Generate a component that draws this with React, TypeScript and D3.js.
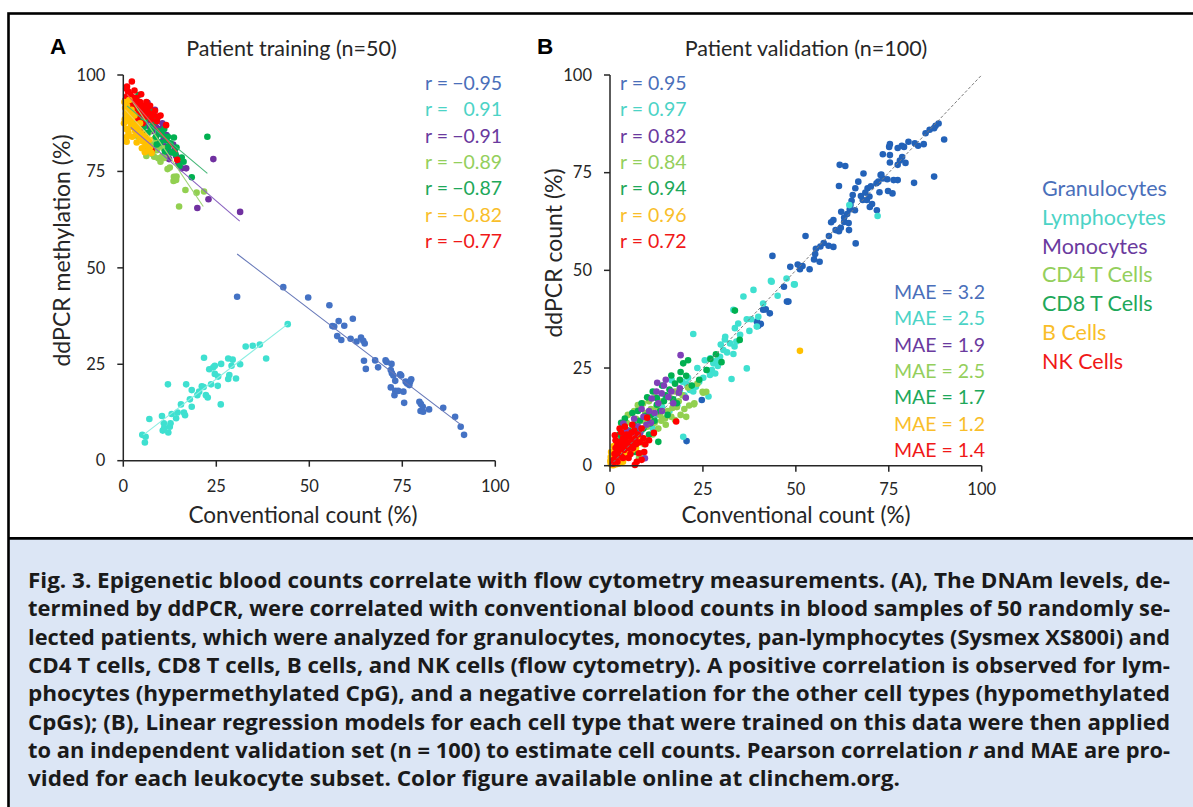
import React from 'react';
import * as d3 from 'd3';

const cellTypes = ['Granulocytes', 'Lymphocytes', 'Monocytes', 'CD4 T Cells', 'CD8 T Cells', 'B Cells', 'NK Cells'];
const typeColors = ['#4472c4', '#3fe0d0', '#7030a0', '#92d050', '#00b050', '#ffc000', '#ff0000'];
const textColors = ['#4a6fba', '#4cd3c6', '#6a3a9e', '#94cf5c', '#1ea85a', '#f9be2a', '#f01818'];
const granulocyteColorB = '#2362b8';

const rTraining = ['\u22120.95', '0.91', '\u22120.91', '\u22120.89', '\u22120.87', '\u22120.82', '\u22120.77'];
const rValidation = ['0.95', '0.97', '0.82', '0.84', '0.94', '0.96', '0.72'];
const maeValidation = ['3.2', '2.5', '1.9', '2.5', '1.7', '1.2', '1.4'];
const axisTicks = [0, 25, 50, 75, 100];

// Panel A: training (conventional count %, ddPCR methylation %)
const granA = [[30.6,42.5],[43.0,45.0],[49.7,42.3],[55.4,40.3],[56.2,34.9],[56.7,34.8],[57.9,36.2],[59.4,35.0],[57.5,32.3],[58.6,31.3],[61.7,36.8],[61.1,31.6],[62.7,30.9],[63.9,31.9],[64.5,31.1],[64.9,30.4],[64.7,25.9],[65.2,23.8],[67.7,26.0],[68.5,24.2],[70.5,26.0],[70.8,25.6],[72.1,25.1],[71.9,23.5],[72.2,22.7],[72.6,22.1],[73.1,20.7],[71.9,19.0],[73.1,18.1],[72.9,17.0],[73.9,18.1],[74.4,22.4],[74.7,22.1],[75.9,20.5],[76.3,20.0],[76.9,19.6],[77.4,21.1],[77.1,20.5],[75.5,15.0],[79.6,15.3],[80.0,14.7],[79.9,12.9],[80.6,12.7],[80.5,14.0],[82.2,13.3],[86.0,13.7],[89.2,11.4],[90.7,8.8],[91.6,6.7],[75.3,17.9]];
const lymphA = [[5.1,6.7],[6.0,6.2],[5.8,4.7],[7.0,10.8],[10.4,11.6],[10.9,9.7],[10.6,7.8],[12.1,7.3],[12.5,8.8],[12.7,9.7],[13.0,12.1],[12.0,19.8],[14.2,11.0],[15.5,14.6],[16.3,12.5],[16.6,11.8],[16.9,19.8],[18.4,18.3],[18.4,14.0],[19.9,17.0],[20.4,17.9],[21.1,19.3],[21.7,26.7],[22.2,17.0],[22.7,16.4],[23.6,19.8],[23.1,23.7],[24.2,24.2],[24.6,24.6],[25.5,21.8],[25.4,19.4],[26.3,25.1],[26.2,14.6],[28.2,26.5],[28.5,22.2],[29.1,24.6],[29.4,26.2],[31.4,25.0],[32.9,29.6],[34.8,29.8],[36.7,30.1],[38.4,26.5],[44.2,35.4],[28.2,21.2],[24.6,22.5],[17.9,15.9],[21.6,19.1],[14.6,12.5],[30.3,21.3],[11.0,8.5]];
const monoA = [[24.2,78.2],[31.4,64.5],[19.9,65.5],[22.9,67.8],[16.9,75.8],[12.3,78.2],[12.8,79.9],[10.1,86.0],[7.0,91.5],[8.1,90.1],[13.4,82.0],[14.8,77.1],[15.7,75.8],[11.6,84.4],[9.0,88.5],[7.5,89.0],[6.2,90.5],[5.5,91.2],[4.8,92.0],[6.8,88.2],[8.8,86.5],[9.5,84.8],[10.8,83.2],[11.2,81.5],[12.0,80.8],[5.0,89.5],[4.0,91.0],[3.5,92.5],[6.0,87.0],[7.8,85.5],[9.8,82.5],[13.8,80.5],[10.5,87.5],[8.5,91.0],[6.5,92.8],[3.0,93.5],[2.5,94.0],[11.5,79.5],[14.2,79.0],[7.2,86.5]];
const cd4A = [[15.0,65.9],[19.7,69.5],[21.7,69.8],[16.7,70.2],[13.6,73.6],[14.2,72.8],[13.5,72.5],[14.3,73.7],[11.9,75.6],[9.4,78.4],[8.3,78.8],[10.8,81.0],[9.4,81.4],[7.5,80.0],[6.5,82.5],[5.5,83.5],[4.5,85.0],[3.8,86.5],[3.0,88.0],[2.5,89.0],[2.0,90.5],[1.5,91.5],[4.0,84.0],[5.0,86.0],[6.0,84.5],[7.0,83.0],[8.0,82.0],[3.5,87.0],[2.8,87.5],[1.8,89.5],[5.8,81.0],[7.8,79.5],[10.0,77.5],[12.5,76.0],[11.0,78.5],[9.0,80.5],[6.8,85.0],[4.2,88.0],[3.2,90.0],[1.2,92.5],[8.5,83.5],[10.5,79.0],[2.2,86.5],[6.2,79.0]];
const cd8A = [[22.6,84.0],[18.4,73.5],[15.7,78.6],[14.3,81.2],[13.6,83.8],[11.6,83.1],[12.7,82.3],[12.1,81.4],[15.1,76.4],[11.2,80.2],[8.1,87.5],[6.7,88.8],[4.1,94.8],[5.4,91.0],[9.5,85.5],[10.5,84.5],[7.5,86.0],[6.0,89.5],[3.5,90.5],[2.8,92.0],[4.8,88.0],[8.8,84.0],[10.0,82.5],[12.0,84.0],[13.0,80.0],[5.5,86.5],[3.0,89.0],[2.0,91.5],[7.0,90.5],[9.0,82.0],[14.0,79.5],[11.0,86.0],[6.5,85.0],[4.5,91.5],[1.5,93.0],[16.2,77.5],[8.5,89.0]];
const nkA = [[2.3,98.3],[1.3,95.7],[0.8,96.5],[1.0,94.5],[1.8,95.0],[2.5,94.2],[3.0,93.5],[3.5,94.0],[2.0,93.0],[4.0,92.5],[4.5,93.0],[3.2,91.8],[5.0,91.5],[5.5,92.0],[6.0,90.5],[4.2,90.0],[6.5,91.0],[7.0,90.0],[8.5,90.7],[9.4,89.2],[8.0,89.5],[7.5,88.5],[5.8,89.2],[3.8,88.8],[4.3,85.3],[7.6,80.5],[14.5,78.0],[2.8,90.5],[1.5,92.0],[6.2,93.0],[3.0,96.0],[1.0,97.0],[9.0,88.0],[10.0,89.5],[2.2,89.0],[5.2,87.5],[7.2,92.0],[4.8,95.0],[0.6,93.5],[11.5,87.0]];
const bA = [[0.9,82.7],[6.3,83.5],[7.2,81.3],[0.3,93.0],[0.5,91.5],[0.7,90.0],[0.4,88.5],[0.2,87.5],[1.0,92.0],[1.2,90.5],[1.5,89.0],[1.8,87.8],[2.0,86.5],[2.3,88.5],[2.6,90.0],[2.9,87.0],[3.2,85.5],[3.5,86.8],[3.8,84.5],[4.1,85.8],[4.4,83.8],[4.8,84.8],[5.2,82.8],[5.6,84.2],[6.0,82.0],[6.6,81.5],[7.0,83.2],[1.4,85.0],[2.4,84.0],[3.0,89.5],[1.6,93.5],[0.8,86.0],[3.6,82.5],[5.0,81.0],[4.5,87.5],[2.2,91.0],[1.0,84.0],[6.8,80.5],[5.8,80.0],[7.6,79.8]];

// Regression fit lines in panel A: [x0, y0, x1, y1]
const fitGran = [30.6, 53.6, 90.8, 9.3];
const fitLymph = [5.4, 6.7, 44.2, 35.4];
const fitMono = [2.0, 86.4, 31.3, 62.1];
const fitCd4 = [2.0, 93.8, 21.5, 65.9];
const fitCd8 = [1.0, 92.0, 22.6, 74.5];
const fitB = [0.5, 91.0, 8.0, 83.0];
const fitNk = [1.0, 95.0, 14.5, 80.0];

// Panel B: validation (conventional count %, ddPCR count %)
const granB = [[88.4,87.6],[87.6,87.0],[87.2,86.4],[89.9,83.5],[84.9,85.1],[84.4,82.3],[82.9,81.9],[80.3,82.9],[79.1,81.6],[78.5,81.9],[77.4,81.3],[75.3,82.3],[75.1,81.6],[73.4,79.7],[75.3,79.5],[78.0,78.1],[77.4,77.0],[75.3,77.6],[78.6,79.0],[87.2,74.0],[81.8,72.4],[77.4,73.1],[76.3,73.1],[74.6,73.3],[73.4,73.5],[72.8,74.4],[72.2,72.7],[76.0,69.7],[74.8,70.3],[71.7,72.3],[68.2,74.8],[66.8,72.7],[69.3,71.0],[68.7,69.9],[69.8,68.9],[68.0,68.0],[69.1,68.0],[70.5,67.0],[71.8,65.4],[69.9,66.2],[61.8,77.0],[63.3,76.7],[61.6,71.6],[65.3,69.3],[65.0,67.8],[64.7,66.7],[64.5,65.6],[65.9,65.4],[63.8,64.4],[62.2,65.0],[60.1,62.9],[59.5,62.3],[60.7,60.3],[62.1,60.9],[61.6,60.0],[63.0,62.4],[64.2,62.1],[64.3,60.3],[58.9,58.8],[66.1,56.9],[60.1,56.0],[58.8,56.3],[56.6,56.1],[55.4,55.5],[55.2,54.2],[54.9,52.8],[56.4,52.2],[52.6,58.8],[51.8,51.1],[51.1,50.3],[53.7,50.3],[48.5,50.9],[43.7,53.7],[46.8,45.8],[47.6,42.0],[41.9,40.0],[43.0,39.0],[39.5,36.9],[40.6,36.3],[24.7,16.8],[20.6,6.3],[41.2,39.9],[39.9,35.8],[48.0,42.0],[70.2,71.5],[67.5,69.0],[72.5,70.0],[79.5,77.5],[82.0,82.5],[86.0,86.0],[73.0,74.5],[66.0,71.0],[63.0,63.5],[57.5,57.0],[50.5,51.5]];
const lymphB = [[72.0,63.9],[64.4,66.7],[49.7,46.4],[43.3,47.3],[38.6,45.0],[43.5,47.1],[49.5,46.4],[47.5,47.9],[45.1,43.5],[22.4,33.7],[36.8,24.9],[32.7,22.2],[26.5,17.7],[19.7,7.4],[30.9,32.3],[32.3,31.3],[33.5,30.5],[33.2,28.6],[29.6,27.9],[30.5,29.6],[27.8,26.2],[27.4,24.5],[28.3,23.6],[26.9,23.2],[26.0,24.5],[25.1,22.5],[23.1,20.2],[22.4,19.0],[21.5,19.4],[20.6,20.9],[18.8,19.2],[16.6,21.9],[18.1,15.5],[35.9,43.3],[33.2,39.9],[34.5,36.4],[33.6,35.2],[36.8,37.5],[41.2,41.5],[39.9,38.1],[39.5,35.6],[38.0,37.5],[28.5,26.8],[29.0,25.5],[31.5,29.0],[24.0,21.5],[20.0,18.0],[17.0,16.5],[15.0,17.5],[12.5,13.0],[10.0,11.5],[8.5,9.0],[14.0,15.0],[19.5,21.5],[23.5,25.0],[27.0,27.5],[35.0,33.5],[37.5,34.5],[21.0,22.5],[25.5,27.0],[31.0,33.0],[34.0,31.8],[29.8,31.0],[16.0,14.0],[11.5,9.5]];
const monoB = [[19.0,28.3],[13.9,18.5],[12.5,19.0],[11.2,17.2],[15.7,17.6],[20.4,17.4],[17.0,16.0],[9.0,12.5],[8.1,8.3],[3.6,10.8],[9.4,1.9],[12.7,21.2],[18.8,19.8],[18.5,18.7],[14.5,20.5],[13.0,16.0],[10.5,14.0],[7.5,10.0],[6.0,8.5],[5.0,6.5],[4.5,9.0],[3.0,4.5],[2.5,3.0],[7.0,6.0],[11.0,11.0],[16.5,19.0],[8.5,14.5],[6.5,12.0],[4.0,7.5],[2.0,5.0],[12.0,13.5],[14.0,14.0],[5.5,4.0],[3.5,2.0],[9.8,10.5],[15.0,22.0]];
const cd4B = [[25.1,18.7],[25.9,18.9],[22.7,16.0],[21.3,15.4],[17.5,11.7],[16.5,12.5],[14.8,12.1],[10.8,12.5],[8.9,15.9],[8.5,3.2],[22.6,15.7],[24.9,18.9],[20.0,14.5],[19.0,13.0],[18.0,15.0],[15.5,14.0],[13.5,13.0],[12.0,11.0],[11.0,14.5],[10.0,10.0],[9.0,11.5],[8.0,9.0],[7.0,12.0],[6.0,10.5],[5.0,8.0],[4.5,11.0],[4.0,6.0],[3.5,9.5],[3.0,7.0],[2.5,5.0],[6.5,14.0],[7.5,15.5],[9.5,13.5],[12.5,15.0],[14.0,16.5],[16.0,17.5],[17.5,19.0],[19.5,18.0],[21.0,20.0],[23.5,21.0],[13.0,9.5],[11.5,8.0],[6.8,5.5],[5.5,4.0],[15.0,10.5],[18.5,16.5],[20.5,12.5],[8.8,7.0],[10.5,16.5],[12.2,17.5],[4.8,13.0],[3.2,10.5],[16.8,14.8],[13.8,11.5],[2.0,3.5],[7.8,2.0],[9.2,5.5]];
const cd8B = [[33.6,39.7],[34.9,32.2],[30.0,26.5],[27.0,27.3],[19.7,26.2],[18.8,22.0],[16.5,23.1],[12.6,17.3],[12.6,15.6],[13.0,6.1],[10.8,10.8],[4.0,12.1],[9.5,12.8],[2.5,8.0],[3.0,11.0],[5.0,9.0],[6.0,13.5],[7.5,14.0],[8.5,16.0],[10.0,17.5],[11.5,19.0],[14.0,20.5],[15.0,18.0],[16.0,19.5],[17.5,21.0],[19.0,24.0],[20.5,23.0],[13.5,14.0],[11.0,13.0],[9.0,9.5],[7.0,8.5],[5.5,6.5],[4.5,5.0],[3.5,4.0],[2.0,2.5],[6.5,10.5],[8.0,11.5],[12.0,11.5],[14.5,16.5],[17.0,17.0],[18.0,16.0],[22.0,20.5],[24.0,22.0],[26.0,24.5],[28.5,28.5],[21.0,27.0],[15.5,13.0],[10.5,8.0],[4.5,8.5],[3.2,6.8],[6.8,3.5]];
const bB = [[51.1,29.4],[0.4,1.9],[0.2,0.5],[0.5,0.2],[0.8,1.0],[1.0,0.3],[1.2,1.5],[1.5,0.8],[1.8,2.2],[2.0,1.2],[2.2,0.5],[2.5,2.8],[2.8,1.8],[3.0,3.2],[3.2,2.0],[3.5,1.0],[3.8,3.8],[4.0,2.5],[4.3,4.2],[4.6,3.0],[5.0,4.8],[5.3,3.5],[5.6,5.2],[6.0,4.0],[6.5,5.5],[7.0,4.5],[0.6,2.8],[1.4,3.2],[2.4,4.0],[0.3,3.5],[1.0,5.0],[3.4,5.5],[4.8,6.0],[0.1,1.2],[0.9,0.1],[1.7,0.4],[2.7,0.7],[8.0,6.5],[7.5,5.8],[0.2,2.2]];
const nkB = [[10.0,12.3],[17.8,11.3],[11.8,8.4],[7.2,1.0],[8.5,1.5],[1.0,1.5],[1.2,3.0],[1.5,4.5],[1.8,2.5],[2.0,5.5],[2.2,3.8],[2.5,6.0],[2.8,4.5],[3.0,2.5],[3.2,5.5],[3.5,7.0],[3.8,4.0],[4.0,6.5],[4.2,5.0],[4.5,8.0],[4.8,6.0],[5.0,4.5],[5.2,7.5],[5.5,5.5],[5.8,8.5],[6.0,6.5],[6.2,4.5],[6.5,9.0],[6.8,7.0],[7.0,5.5],[7.5,8.0],[8.0,6.0],[8.5,9.5],[9.0,7.0],[9.5,5.5],[10.5,6.5],[2.0,1.0],[3.5,2.0],[5.5,3.0],[0.8,0.5],[1.5,6.5],[4.0,10.0],[6.0,10.5],[7.8,3.2],[9.2,3.5],[5.0,2.0],[3.0,8.5],[1.3,7.8],[2.6,9.5],[6.7,0.2]];

const captionLines = [
  'Fig. 3.  Epigenetic blood counts correlate with flow cytometry measurements. (A), The DNAm levels, de-',
  'termined by ddPCR, were correlated with conventional blood counts in blood samples of 50 randomly se-',
  'lected patients, which were analyzed for granulocytes, monocytes, pan-lymphocytes (Sysmex XS800i) and',
  'CD4 T cells, CD8 T cells, B cells, and NK cells (flow cytometry). A positive correlation is observed for lym-',
  'phocytes (hypermethylated CpG), and a negative correlation for the other cell types (hypomethylated',
  'CpGs); (B), Linear regression models for each cell type that were trained on this data were then applied',
  'to an independent validation set (n = 100) to estimate cell counts. Pearson correlation |r| and MAE are pro-',
  'vided for each leukocyte subset. Color figure available online at clinchem.org.',
];

const FONT = 'Lato, Carlito, "Open Sans", sans-serif';
const AXIS = '#262626';

type Scale = d3.ScaleLinear<number, number>;

function Axes({ x, y, labelOffset }: { x: Scale; y: Scale; labelOffset: number }) {
  return (
    <g fontFamily={FONT} fontSize={16.5} fill="#262626">
      <line x1={x(0)} x2={x(0)} y1={y(0)} y2={y(100)} stroke={AXIS} strokeWidth={1.5} />
      <line x1={x(0)} x2={x(100)} y1={y(0)} y2={y(0)} stroke={AXIS} strokeWidth={1.5} />
      {axisTicks.map((t) => (
        <g key={'y' + t}>
          <line x1={x(0) - 6} x2={x(0)} y1={y(t)} y2={y(t)} stroke={AXIS} strokeWidth={1.5} />
          <text x={x(0) - 18} y={y(t)} dy="0.35em" textAnchor="end">{t}</text>
        </g>
      ))}
      {axisTicks.map((t) => (
        <g key={'x' + t}>
          <line x1={x(t)} x2={x(t)} y1={y(0)} y2={y(0) + 6} stroke={AXIS} strokeWidth={1.5} />
          <text x={x(t)} y={y(0) + labelOffset} textAnchor="middle">{t}</text>
        </g>
      ))}
    </g>
  );
}

function Dots({ data, x, y, color }: { data: number[][]; x: Scale; y: Scale; color: string }) {
  return (
    <g fill={color}>
      {data.map((d, i) => (
        <circle key={i} cx={x(d[0])} cy={y(d[1])} r={3.3} />
      ))}
    </g>
  );
}

function Fit({ f, x, y, color }: { f: number[]; x: Scale; y: Scale; color: string }) {
  return <line x1={x(f[0])} y1={y(f[1])} x2={x(f[2])} y2={y(f[3])} stroke={color} strokeWidth={1.1} />;
}

export default function App() {
  const xA = d3.scaleLinear().domain([0, 100]).range([123.3, 495.3]);
  const yA = d3.scaleLinear().domain([0, 100]).range([460.7, 75]);
  const xB = d3.scaleLinear().domain([0, 100]).range([610, 981.7]);
  const yB = d3.scaleLinear().domain([0, 100]).range([465.7, 75]);

  const seriesA = [granA, lymphA, monoA, cd4A, cd8A, nkA, bA];
  const colorsA = [typeColors[0], typeColors[1], typeColors[2], typeColors[3], typeColors[4], typeColors[6], typeColors[5]];
  const fitsA = [fitGran, fitLymph, fitMono, fitCd4, fitCd8, fitB, fitNk];
  const fitColors = ['#6678b8', '#8ceee2', '#8a62c0', '#9fd476', '#46b878', '#f5cc55', '#f05050'];

  const seriesB = [granB, lymphB, cd4B, cd8B, monoB, bB, nkB];
  const colorsB = [granulocyteColorB, typeColors[1], typeColors[3], typeColors[4], '#8040b8', typeColors[5], typeColors[6]];

  const rowH = 26.3;

  return (
    <svg width={1193} height={807} style={{ position: 'absolute', left: 0, top: 0, background: '#fff' }}>
      <rect x={0} y={0} width={1193} height={807} fill="#fff" />
      {/* caption background */}
      <rect x={8.5} y={538} width={1190} height={280} fill="#dce6f5" />
      {/* frame */}
      <rect x={8.5} y={13.5} width={1190} height={900} fill="none" stroke="#000" strokeWidth={2.6} />
      <line x1={8} x2={1193} y1={538.3} y2={538.3} stroke="#000" strokeWidth={2.8} />

      {/* Panel A */}
      <text x={50} y={54} fontFamily="Arial, 'Liberation Sans', sans-serif" fontWeight="bold" fontSize={22.5} fill="#000">A</text>
      <text x={291.5} y={56} fontFamily={FONT} fontSize={21.5} textAnchor="middle" fill="#262626">Patient training (n=50)</text>
      {seriesA.map((s, i) => <Dots key={i} data={s} x={xA} y={yA} color={colorsA[i]} />)}
      {fitsA.map((f, i) => <Fit key={i} f={f} x={xA} y={yA} color={fitColors[i]} />)}
      <Axes x={xA} y={yA} labelOffset={31} />
      <text x={303} y={523} fontFamily={FONT} fontSize={22.5} textAnchor="middle" fill="#262626">Conventional count (%)</text>
      <text transform={`translate(70,250.5) rotate(-90)`} fontFamily={FONT} fontSize={23} textAnchor="middle" fill="#262626">ddPCR methylation (%)</text>
      <g fontFamily={FONT} fontSize={19.5}>
        {rTraining.map((r, i) => (
          <g key={i} fill={textColors[i]}>
            <text x={425} y={90 + i * rowH}>r =</text>
            <text x={502} y={90 + i * rowH} textAnchor="end">{r}</text>
          </g>
        ))}
      </g>

      {/* Panel B */}
      <text x={537} y={53.5} fontFamily="Arial, 'Liberation Sans', sans-serif" fontWeight="bold" fontSize={22.5} fill="#000">B</text>
      <text x={806} y={56} fontFamily={FONT} fontSize={21.5} textAnchor="middle" fill="#262626">Patient validation (n=100)</text>
      {seriesB.map((s, i) => <Dots key={i} data={s} x={xB} y={yB} color={colorsB[i]} />)}
      <line x1={xB(0)} y1={yB(0)} x2={xB(100)} y2={yB(100)} stroke="#7a7a7a" strokeWidth={1} strokeDasharray="3,2" />
      <Axes x={xB} y={yB} labelOffset={29} />
      <text x={796} y={523} fontFamily={FONT} fontSize={22.5} textAnchor="middle" fill="#262626">Conventional count (%)</text>
      <text transform={`translate(562,253) rotate(-90)`} fontFamily={FONT} fontSize={23} textAnchor="middle" fill="#262626">ddPCR count (%)</text>
      <g fontFamily={FONT} fontSize={19.5}>
        {rValidation.map((r, i) => (
          <text key={i} x={620} y={90 + i * rowH} fill={textColors[i]}>{'r = ' + r}</text>
        ))}
        {maeValidation.map((m, i) => (
          <text key={i} x={985} y={299 + i * rowH} textAnchor="end" fill={textColors[i]}>{'MAE = ' + m}</text>
        ))}
      </g>
      <g fontFamily={FONT} fontSize={21.5}>
        {cellTypes.map((c, i) => (
          <text key={c} x={1042} y={196 + i * 28.8} fill={textColors[i]}>{c}</text>
        ))}
      </g>

      {/* Caption */}
      <g fontFamily={'"Liberation Sans Narrow", "Open Sans", Lato, sans-serif'} fontWeight="bold" fontSize={20.5} fill="#1a1a1a">
        {captionLines.map((line, i) => {
          const parts = line.split('|');
          const last = i === captionLines.length - 1;
          return (
            <text key={i} x={28} y={588 + i * 28.3} textLength={last ? 872 : 1142} lengthAdjust="spacingAndGlyphs">
              {parts.map((p, j) => (
                <tspan key={j} fontStyle={j % 2 === 1 ? 'italic' : 'normal'}>{p}</tspan>
              ))}
            </text>
          );
        })}
      </g>
    </svg>
  );
}
